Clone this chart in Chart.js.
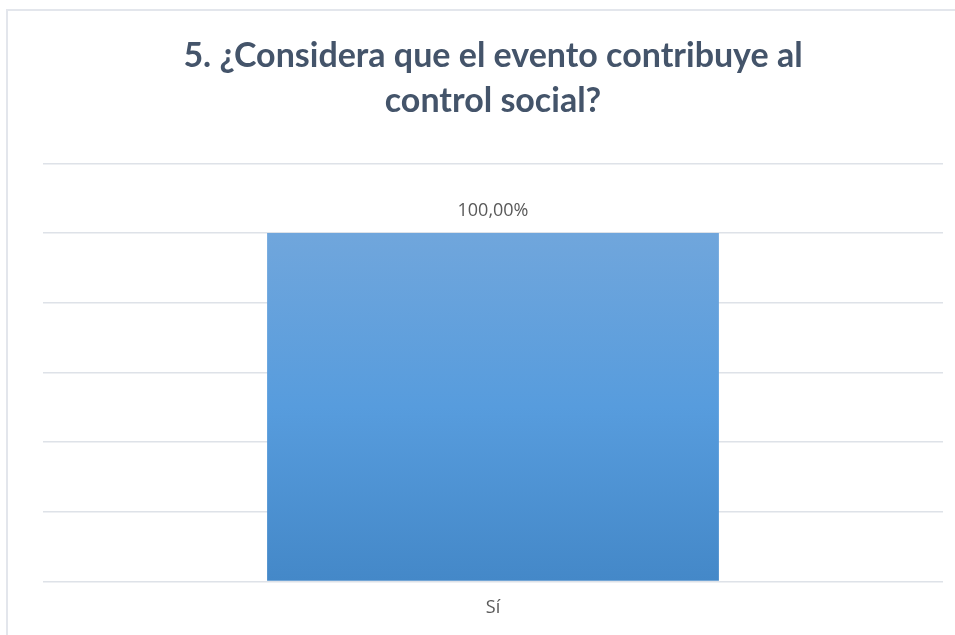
<!DOCTYPE html>
<html>
<head>
<meta charset="utf-8">
<script src="https://cdn.jsdelivr.net/npm/chart.js@4/dist/chart.umd.min.js"></script>
<style>
  html, body { margin: 0; padding: 0; background: #fff; overflow: hidden; }
  #wrap { position: relative; width: 955px; height: 635px; }
  #frame { position: absolute; left: 6px; top: 9px; width: 1000px; height: 700px;
           border: 2px solid #E3E6EC; box-sizing: border-box; pointer-events: none; }
</style>
</head>
<body>
<div id="wrap">
  <canvas id="chart-social" width="955" height="635"></canvas>
  <div id="frame"></div>
</div>
<script>
const categories = ["Sí"];
const values = [1.0];
const titleLines = ["5. ¿Considera que el evento contribuye al", "control social?"];

const valueLabels = {
    id: 'valueLabels',
    afterDatasetsDraw(chart) {
        const ctx = chart.ctx;
        const meta = chart.getDatasetMeta(0);
        ctx.save();
        ctx.font = '18px "Open Sans", sans-serif';
        ctx.fillStyle = '#595959';
        ctx.textAlign = 'center';
        ctx.textBaseline = 'middle';
        meta.data.forEach((bar, i) => {
            const txt = (values[i] * 100).toFixed(2).replace('.', ',') + '%';
            ctx.fillText(txt, bar.x, bar.y - 22);
        });
        ctx.restore();
    }
};

const chartObj = document.getElementById("chart-social");
const config = {
    type: 'bar',
    data: {
        labels: categories,
        datasets: [{
            data: values,
            backgroundColor: function (context) {
                const area = context.chart.chartArea;
                if (!area) return '#5B9BD5';
                const y0 = context.chart.scales.y.getPixelForValue(1.0);
                const g = context.chart.ctx.createLinearGradient(0, y0, 0, area.bottom);
                g.addColorStop(0, '#70A6DC');
                g.addColorStop(0.5, '#579CDD');
                g.addColorStop(1, '#4488C8');
                return g;
            },
            borderWidth: 0,
            categoryPercentage: 1.0,
            barPercentage: 0.502
        }]
    },
    options: {
        responsive: false,
        animation: false,
        devicePixelRatio: 1,
        layout: {
            padding: { left: 43, right: 12, top: 0, bottom: 0 }
        },
        plugins: {
            legend: { display: false },
            tooltip: { enabled: false },
            title: {
                display: true,
                text: titleLines,
                color: '#44546A',
                font: { family: 'Lato', weight: 'bold', size: 34, lineHeight: 1.33 },
                padding: { top: 33, bottom: 40 }
            }
        },
        scales: {
            x: {
                grid: { display: false, drawTicks: false },
                border: { display: false },
                ticks: {
                    color: '#595959',
                    padding: 16,
                    font: { family: 'Open Sans', size: 18 }
                }
            },
            y: {
                min: 0,
                max: 1.2,
                ticks: { display: false, stepSize: 0.2 },
                grid: { color: '#DEE2E8', lineWidth: 1.5, drawTicks: false },
                border: { display: false }
            }
        }
    },
    plugins: [valueLabels]
};

new Chart(chartObj, config);
</script>
</body>
</html>
